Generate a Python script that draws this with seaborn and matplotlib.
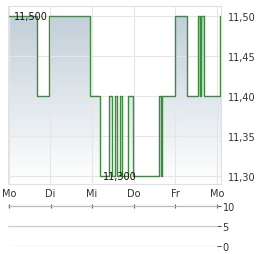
import numpy as np
import pandas as pd
import matplotlib
matplotlib.use("Agg")
import matplotlib.pyplot as plt
import seaborn as sns

# ---- data ----
times = [0.0, 0.67, 0.96, 1.95, 2.19, 2.40, 2.47, 2.55, 2.60, 2.67, 2.72, 2.86, 2.98,
         3.61, 3.65, 3.68, 3.99, 4.28, 4.54, 4.59, 4.62, 4.69, 5.07, 5.10]
prices = [11.50, 11.40, 11.50, 11.40, 11.30, 11.40, 11.30, 11.40, 11.30, 11.40, 11.30, 11.40, 11.30,
          11.40, 11.30, 11.40, 11.50, 11.40, 11.50, 11.40, 11.50, 11.40, 11.50, 11.50]
day_labels = ["Mo", "Di", "Mi", "Do", "Fr", "Mo"]
day_pos = [0, 1, 2, 3, 4, 5]
y_ticks = [11.30, 11.35, 11.40, 11.45, 11.50]
vol_ticks = [0, 5, 10]
max_label = "11,500"
min_label = "11,300"

df = pd.DataFrame({"t": times, "p": prices})

sns.set_style("white")
plt.rcParams["font.family"] = ["DejaVu Sans"]

W, H = 264, 255
fig = plt.figure(figsize=(W / 100, H / 100), dpi=100)

def px_rect(x0, y0, x1, y1):
    return [x0 / W, 1 - y1 / H, (x1 - x0) / W, (y1 - y0) / H]

ax = fig.add_axes(px_rect(8, 7, 221, 185))
x0, x1 = -0.02, 5.10
y0, y1 = 11.29, 11.5125
ax.set_xlim(x0, x1)
ax.set_ylim(y0, y1)

# gradient fill under step line
grad = np.linspace(0, 1, 256).reshape(-1, 1)
top_c = np.array([0.76, 0.81, 0.85])
bot_c = np.array([1.0, 1.0, 1.0])
img = top_c * (1 - grad[..., None]) + bot_c * grad[..., None]
img = np.repeat(img, 2, axis=1)
extent = [x0, x1, y0, 11.50]
im = ax.imshow(img, extent=[x0, x1, y0, 11.50], origin="upper", aspect="auto", zorder=1)
poly = ax.fill_between(df["t"], df["p"], y0, step="post", color="none", zorder=0)
path = poly.get_paths()[0]
im.set_clip_path(path, transform=ax.transData)

sns.lineplot(data=df, x="t", y="p", drawstyle="steps-post", color="#3d8c3d",
             linewidth=1.0, ax=ax, zorder=3)

ax.set_xlabel("")
ax.set_ylabel("")
ax.set_xticks(day_pos)
ax.set_xticklabels(day_labels)
ax.set_yticks(y_ticks)
ax.set_yticklabels([f"{v:.2f}".replace(".", ",") for v in y_ticks])
ax.yaxis.tick_right()
ax.tick_params(axis="y", length=0, pad=5, labelsize=7, labelcolor="#333333")
ax.tick_params(axis="x", length=0, pad=3, labelsize=7, labelcolor="#333333")
ax.grid(True, color="#e6e6e6", linewidth=0.8, zorder=0.5)
ax.set_axisbelow(False)
for gl in ax.get_xgridlines() + ax.get_ygridlines():
    gl.set_zorder(2)
for s in ax.spines.values():
    s.set_color("#e0e0e0")
    s.set_linewidth(0.8)

ax.text(0.12, 11.50, max_label, fontsize=7, color="#111111", va="center", ha="left", zorder=5)
ax.text(2.68, 11.30, min_label, fontsize=7, color="#111111", va="center", ha="center", zorder=5)

# volume panel
ax2 = fig.add_axes(px_rect(8, 207, 217, 247))
ax2.set_xlim(x0 - 0.005, 4.99)
ax2.set_ylim(0, 10)
ax2.set_yticks(vol_ticks)
ax2.set_yticklabels([str(v) for v in vol_ticks])
ax2.yaxis.tick_right()
ax2.tick_params(axis="y", length=3, width=0.8, color="#555555", pad=1, labelsize=7, labelcolor="#333333")
ax2.set_xticks(day_pos)
ax2.xaxis.tick_top()
ax2.tick_params(axis="x", length=3, width=0.8, direction="inout", color="#555555", labeltop=False, labelbottom=False)
for v in [0, 5]:
    ax2.axhline(v, color="#cccccc", linewidth=0.9)
for name, s in ax2.spines.items():
    if name == "top":
        s.set_color("#bbbbbb")
        s.set_linewidth(0.9)
    else:
        s.set_visible(False)
ax2.patch.set_alpha(0)

fig.savefig("out.png", dpi=100)
